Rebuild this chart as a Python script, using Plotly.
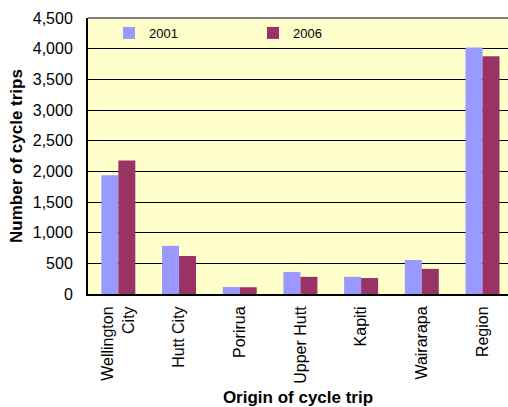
import plotly.graph_objects as go

categories = ["Wellington<br>City", "Hutt City", "Porirua", "Upper Hutt", "Kapiti", "Wairarapa", "Region"]
trips_2001 = [1935, 785, 115, 360, 280, 555, 4020]
trips_2006 = [2175, 620, 110, 280, 260, 410, 3875]
y_ticks = [0, 500, 1000, 1500, 2000, 2500, 3000, 3500, 4000, 4500]

font = "Liberation Sans, Arial, sans-serif"

fig = go.Figure()
fig.add_trace(go.Bar(name="2001", x=categories, y=trips_2001, marker=dict(color="#9999FF", line=dict(width=0))))
fig.add_trace(go.Bar(name="2006", x=categories, y=trips_2006, marker=dict(color="#993366", line=dict(width=0))))

fig.update_layout(
    width=508, height=407,
    margin=dict(l=88, t=18, b=113, r=0, pad=0),
    paper_bgcolor="white", plot_bgcolor="#FFFFCC",
    barmode="group", bargap=0.44, bargroupgap=0,
    font=dict(family=font, color="black"),
    showlegend=True,
    legend=dict(orientation="h", x=0.05, y=1.0, xanchor="left", yanchor="top",
                bgcolor="rgba(0,0,0,0)", font=dict(size=13, family=font),
                entrywidth=99, entrywidthmode="pixels", itemwidth=30, tracegroupgap=0),
    xaxis=dict(range=[-0.5, 6.42], showline=True, linecolor="black", linewidth=2,
               tickangle=-90, tickfont=dict(size=16, family=font), ticks="", ticklabelstandoff=4,
               title=dict(text="<b>Origin of cycle trip</b>", font=dict(size=17, family=font), standoff=12),
               showgrid=False, fixedrange=True),
    yaxis=dict(range=[0, 4500], tickvals=y_ticks, tickformat=",d", showline=True, linecolor="black", linewidth=2,
               showgrid=True, gridcolor="black", gridwidth=1, zeroline=False, ticks="",
               tickfont=dict(size=16, family=font), ticklabelstandoff=10,
               title=dict(text="<b>Number of cycle trips</b>", font=dict(size=17, family=font), standoff=6),
               fixedrange=True),
    shapes=[dict(type="line", xref="paper", yref="paper", x0=0, x1=1, y0=1, y1=1,
                 line=dict(color="#808080", width=2))],
)

fig.write_html("out.html", config={"displayModeBar": False},
               post_script="document.body.style.margin='0';document.body.style.overflow='hidden';")
